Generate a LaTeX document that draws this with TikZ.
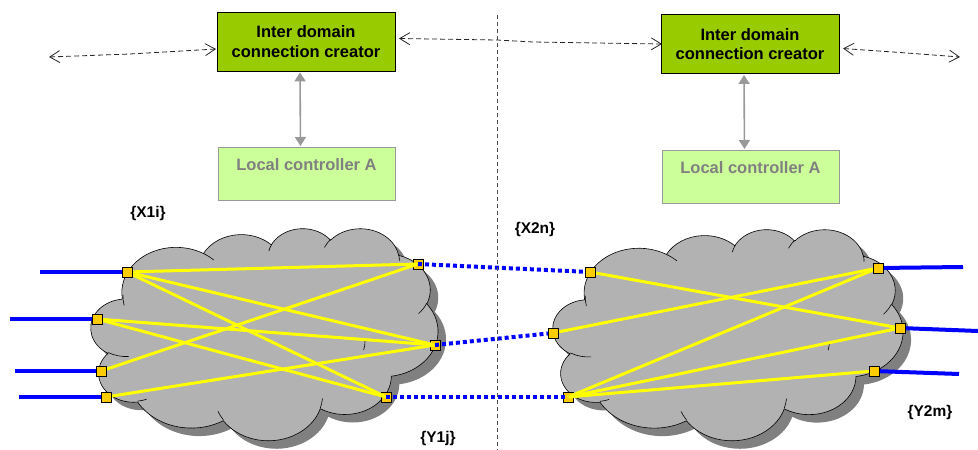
\documentclass[tikz,border=0pt]{standalone}
\usepackage{fontspec}
\setmainfont{Liberation Sans}
\usetikzlibrary{arrows.meta}
\definecolor{idcgreen}{HTML}{99CC00}
\definecolor{lcgreen}{HTML}{CCFF99}
\definecolor{lcborder}{HTML}{999999}
\definecolor{lctext}{HTML}{808080}
\definecolor{cloudgray}{HTML}{B2B2B2}
\definecolor{shadowgray}{HTML}{808080}
\definecolor{portfill}{HTML}{FFCC00}
\definecolor{linkyellow}{HTML}{FFFF00}
\definecolor{linkblue}{HTML}{0000FF}
\pgfdeclarelayer{back}
\pgfdeclarelayer{mid}
\pgfdeclarelayer{bg}
\pgfsetlayers{back,mid,bg,main}
\tikzset{
  ooarc/.style n args={4}{x radius=#1, y radius=#2,
    start angle={atan2(#1*sin(#3),#2*cos(#3))},
    delta angle={mod(atan2(#1*sin(#3+#4),#2*cos(#3+#4))-atan2(#1*sin(#3),#2*cos(#3))+720,360)}},
  cloudoutline/.style={insert path={
    (3.900,14.370)
    arc[ooarc={6.753}{9.190}{-190.4875}{123.7805}]
    arc[ooarc={5.333}{7.267}{-144.1024}{89.9452}]
    arc[ooarc={4.365}{5.945}{-145.8079}{99.7230}]
    arc[ooarc={4.857}{6.595}{-130.9861}{117.2417}]
    arc[ooarc={5.333}{7.273}{-78.7089}{109.0269}]
    arc[ooarc={6.775}{9.220}{-46.2673}{130.2690}]
    arc[ooarc={5.785}{7.867}{0.6250}{114.0333}]
    arc[ooarc={6.752}{9.215}{22.4516}{115.1726}]
    arc[ooarc={7.720}{10.543}{66.2426}{75.7110}]
    arc[ooarc={4.360}{5.918}{-274.9421}{146.7356}]
    arc[ooarc={4.345}{5.945}{-246.8285}{152.5189}]
    -- cycle}},
  cloudinner/.style={insert path={
    (4.693,26.177) arc[ooarc={4.345}{5.945}{86.7420}{26.4295}]
    (6.928,34.899) arc[ooarc={4.360}{5.918}{73.6105}{11.4475}]
    (16.478,39.090) arc[ooarc={6.752}{9.215}{137.6242}{14.0811}]
    (28.827,34.751) arc[ooarc={6.752}{9.215}{6.4533}{15.9984}]
    (34.129,22.954) arc[ooarc={5.785}{7.867}{-0.0847}{18.5815}]
    (41.798,15.354) arc[ooarc={5.333}{7.273}{30.3180}{21.5765}]
    (38.324,5.426) arc[ooarc={4.857}{6.595}{-13.7443}{14.8589}]
    (29.078,3.952) arc[ooarc={4.857}{6.595}{-149.1815}{18.1954}]
    (22.141,4.720) arc[ooarc={4.365}{5.945}{-163.4943}{17.6864}]
    (14.000,5.192) arc[ooarc={6.753}{9.190}{-66.7070}{12.3194}]
    (4.127,15.789) arc[ooarc={6.753}{9.190}{163.7678}{17.5945}]
  }}
}
\begin{document}
\begin{tikzpicture}[x=1pt,y=-1pt,
  idc/.style={draw=black, line width=0.8pt, fill=idcgreen, minimum width=178pt, minimum height=59pt,
    font=\bfseries\fontsize{16.5}{19.5}\selectfont, align=center, inner sep=0pt},
  lc/.style={draw=lcborder, line width=0.8pt, fill=lcgreen, text=lctext, minimum width=177pt,
    text height=23pt, text depth=30pt, inner ysep=0pt, font=\bfseries\fontsize{16.5}{19.5}\selectfont},
  ctrl/.style={draw=lcborder, line width=1.6pt, {Triangle[length=9pt,width=11pt]}-{Triangle[length=9pt,width=11pt]}, shorten <=1pt, shorten >=1pt},
  peer/.style={draw=black!85, line width=0.8pt, dash pattern=on 5pt off 3pt,
    {Straight Barb[length=10pt,width=12pt,line width=0.8pt]}-{Straight Barb[length=10pt,width=12pt,line width=0.8pt]}},
  divider/.style={draw=black!70, line width=0.7pt, dash pattern=on 4pt off 3pt},
  cloudbody/.style={fill=cloudgray, draw=black, line width=0.6pt},
  cloudshadow/.style={fill=shadowgray},
  cloudline/.style={draw=black, line width=0.6pt},
  port/.style={draw=black, line width=0.5pt, fill=portfill, minimum size=9.5pt, inner sep=0pt},
  ylink/.style={draw=linkyellow, line width=3pt},
  blink/.style={draw=linkblue, line width=4pt},
  dlink/.style={draw=linkblue, line width=4pt, dash pattern=on 4pt off 3pt},
  setlbl/.style={font=\bfseries\fontsize{15.5}{18}\selectfont}
]
\useasboundingbox (0,0) rectangle (978,450);

% boxes
\node[idc] (idcL) at (306,41.5) {Inter domain\\connection creator};
\node[idc] (idcR) at (750,44) {Inter domain\\connection creator};
\node[lc, anchor=north] (lcL) at (306.5,147) {Local controller A};
\node[lc, anchor=north] (lcR) at (750.5,150) {Local controller A};

\draw[ctrl] ([xshift=-6pt]idcL.south) -- ([xshift=-6pt]lcL.north);
\draw[ctrl] ([xshift=-6pt]idcR.south) -- ([xshift=-6pt]lcR.north);

% divider
\coordinate (divTop) at (497,15);
\coordinate (divBot) at (497,450);
\draw[divider] (divTop) -- (divBot);

% peer arrows
\coordinate (farL) at (49,57);
\coordinate (farLk) at (130,54);
\coordinate (inL) at (216,49);
\coordinate (midA) at (399,38.5);
\coordinate (midK1) at (497,40);
\coordinate (midK2) at (533,42);
\coordinate (midB) at (662,44);
\coordinate (outR) at (843,48.5);
\coordinate (farRk) at (900,52.5);
\coordinate (farR) at (960,57);
\draw[peer] (farL) -- (farLk) -- (inL);
\draw[peer] (midA) -- (midK1) -- (midK2) -- (midB);
\draw[peer] (outR) -- (farRk) -- (farR);

% clouds
\begin{pgfonlayer}{back}
\begin{scope}[shift={(91pt,-228pt)}, x=8.03pt, y=-4.907pt]
  \path[cloudshadow, xshift=8pt, yshift=-8pt, cloudoutline];
  \path[cloudbody, cloudoutline];
  \path[cloudline, cloudinner];
\end{scope}
\begin{scope}[shift={(553pt,-229pt)}, x=8.10pt, y=-4.884pt]
  \path[cloudshadow, xshift=8pt, yshift=-8pt, cloudoutline];
  \path[cloudbody, cloudoutline];
  \path[cloudline, cloudinner];
\end{scope}
\end{pgfonlayer}

% ports
\node[port] (p1) at (127,272) {};
\node[port] (p2) at (97,319) {};
\node[port] (p3) at (101,371) {};
\node[port] (p4) at (106,397) {};
\begin{pgfonlayer}{mid}
\node[port] (q1) at (418,264) {};
\node[port] (q2) at (435,345) {};
\node[port] (q3) at (386,397) {};
\node[port] (r3) at (568,397) {};
\end{pgfonlayer}
\node[port] (r1) at (590,272) {};
\node[port] (r2) at (553,333) {};
\node[port] (s1) at (878,268) {};
\node[port] (s2) at (900,328) {};
\node[port] (s3) at (874,371) {};

\coordinate (e1) at (40,272);
\coordinate (e2) at (10,319);
\coordinate (e3) at (15,371);
\coordinate (e4) at (19,397);
\coordinate (f1) at (963,267);
\coordinate (f2) at (978,331);
\coordinate (f3) at (959,374);

\begin{pgfonlayer}{bg}
\draw[ylink] (p1.center) -- (q1.center);
\draw[ylink] (p1.center) -- (q2.center);
\draw[ylink] (p1.center) -- (q3.center);
\draw[ylink] (p2.center) -- (q2.center);
\draw[ylink] (p2.center) -- (q3.center);
\draw[ylink] (p3.center) -- (q1.center);
\draw[ylink] (p4.center) -- (q2.center);
\draw[ylink] (r1.center) -- (s2.center);
\draw[ylink] (r2.center) -- (s1.center);
\draw[ylink] (r3.center) -- (s1.center);
\draw[ylink] (r3.center) -- (s2.center);
\draw[ylink] (r3.center) -- (s3.center);
\draw[blink] (e1) -- (p1.center);
\draw[blink] (e2) -- (p2.center);
\draw[blink] (e3) -- (p3.center);
\draw[blink] (e4) -- (p4.center);
\draw[blink] (s1.center) -- (f1);
\draw[blink] (s2.center) -- (f2);
\draw[blink] (s3.center) -- (f3);
\draw[dlink] (q1.center) -- (r1.center);
\draw[dlink] (q2.center) -- (r2.center);
\draw[dlink] (q3.center) -- (r3.center);
\end{pgfonlayer}

% labels
\node[setlbl] (lx1) at (148,213) {\{X1i\}};
\node[setlbl] (ly1) at (438,438) {\{Y1j\}};
\node[setlbl] (lx2) at (535,229) {\{X2n\}};
\node[setlbl] (ly2) at (930,412) {\{Y2m\}};
\end{tikzpicture}
\end{document}
